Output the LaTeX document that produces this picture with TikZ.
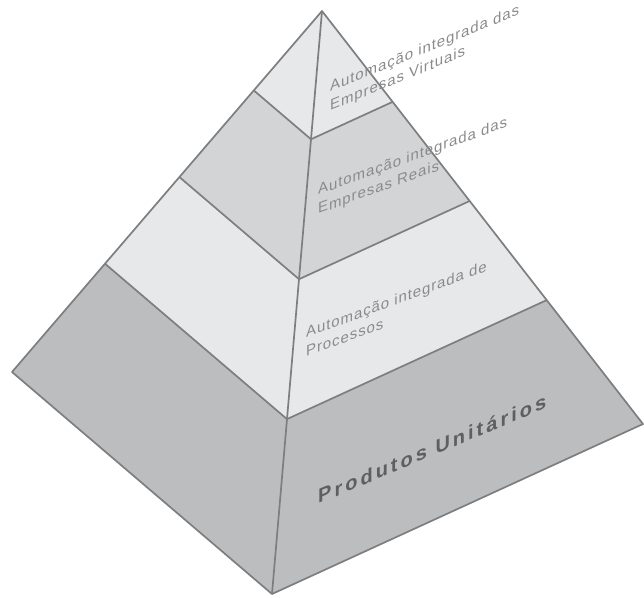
\documentclass[tikz,border=0pt]{standalone}
\usepackage{fontspec}
\setmainfont{Liberation Sans}
\newfontfamily\smallfam[LetterSpace=6]{Liberation Sans}
\newfontfamily\basefam[LetterSpace=15]{Liberation Sans}
\usetikzlibrary{calc}
\definecolor{lightlayer}{HTML}{E7E8EA}
\definecolor{midlayer}{HTML}{D3D4D6}
\definecolor{darklayer}{HTML}{BCBDBF}
\definecolor{edgegray}{HTML}{7D7E80}
\definecolor{labelgray}{HTML}{8A8B8D}
\definecolor{baselabel}{HTML}{5E5F61}
\tikzset{
  edgeline/.style={draw=edgegray, line width=1.7pt, line join=round},
  smalllabel/.style={anchor=base west, inner sep=0pt, text=labelgray, align=left,
    font=\smallfam\fontsize{15}{19}\selectfont},
  baselabelstyle/.style={anchor=base west, inner sep=0pt, text=baselabel,
    font=\basefam\fontsize{20}{24}\selectfont\bfseries}
}
\begin{document}
\begin{tikzpicture}[x=1pt,y=-1pt]
\useasboundingbox (0,0) rectangle (644,597);
\coordinate (A) at (322,11);
\coordinate (L) at (12,372);
\coordinate (F) at (272,594);
\coordinate (R) at (643,424);
% layer points
\foreach \n/\t in {1/0.22,2/0.46,3/0.70}{
  \coordinate (L\n) at ($(A)!\t!(L)$);
  \coordinate (F\n) at ($(A)!\t!(F)$);
  \coordinate (R\n) at ($(A)!\t!(R)$);
}
% fills
\fill[lightlayer] (A) -- (L1) -- (F1) -- (R1) -- cycle;
\fill[midlayer] (L1) -- (L2) -- (F2) -- (R2) -- (R1) -- (F1) -- cycle;
\fill[lightlayer] (L2) -- (L3) -- (F3) -- (R3) -- (R2) -- (F2) -- cycle;
\fill[darklayer] (L3) -- (L) -- (F) -- (R) -- (R3) -- (F3) -- cycle;
% edges
\draw[edgeline] (A) -- (L) -- (F) -- (R) -- cycle;
\draw[edgeline] (A) -- (F);
\draw[edgeline] (L1) -- (F1) -- (R1);
\draw[edgeline] (L2) -- (F2) -- (R2);
\draw[edgeline] (L3) -- (F3) -- (R3);
% labels
\node[smalllabel, yslant=0.41] (t1) at (330,111) {Automação integrada das\\Empresas Virtuais};
\node[smalllabel, yslant=0.36] (t2) at (318,214) {Automação integrada das\\Empresas Reais};
\node[smalllabel, yslant=0.37] (t3) at (306,357) {Automação integrada de\\Processos};
\node[baselabelstyle, yslant=0.42] (t4) at (318,504) {Produtos Unitários};
\end{tikzpicture}
\end{document}
